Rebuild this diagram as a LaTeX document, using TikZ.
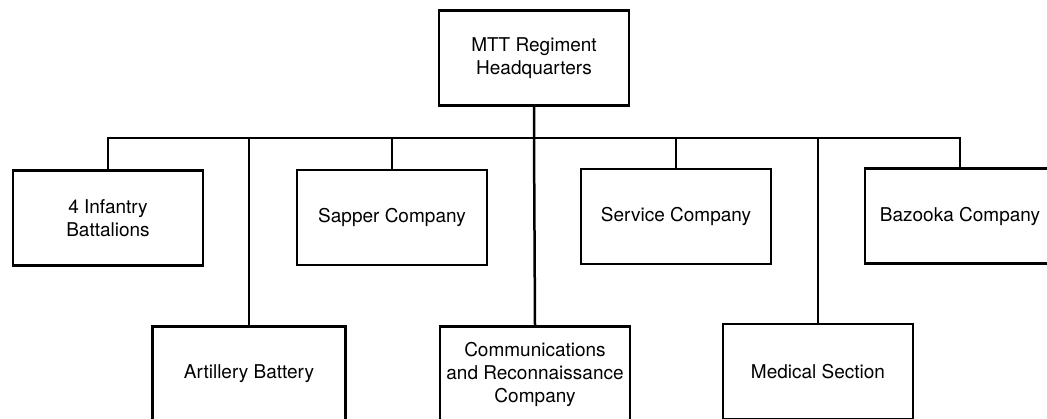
\documentclass[tikz,border=0pt]{standalone}
\usepackage{fontspec}
\setmainfont{TeX Gyre Heros}
\begin{document}
\begin{tikzpicture}[x=1pt,y=-1pt,
  unitbox/.style={draw=black, line width=2.8pt, fill=white, minimum width=190pt,
    minimum height=95pt, inner sep=0pt, align=center,
    font=\fontsize{19}{23}\selectfont},
  conn/.style={draw=black, line width=2.5pt}]
\useasboundingbox (0,0) rectangle (1047,419);
\clip (0,0) rectangle (1047,419);
\fill[white] (0,0) rectangle (1047,419);
\coordinate (bus) at (0,138);
% nodes
\node[unitbox] (hq)   at (534,58)    {MTT Regiment\\Headquarters};
\node[unitbox] (inf)  at (108,218)   {4 Infantry\\Battalions};
\node[unitbox] (sap)  at (392,217.5) {Sapper Company};
\node[unitbox] (ser)  at (676,216.5) {Service Company};
\node[unitbox] (baz)  at (960,216)   {Bazooka Company};
\node[unitbox, minimum width=193pt] (art) at (249,374) {Artillery Battery};
\node[unitbox] (com)  at (535,374)   {Communications\\and Reconnaissance\\Company};
\node[unitbox] (med)  at (818,371.5) {Medical Section};
% connectors
\draw[conn] (inf.north) -- (inf.north |- bus) -- (baz.north |- bus) -- (baz.north);
\draw[conn] (hq.south) -- (hq.south |- bus) -- (com.north);
\draw[conn] (sap.north) -- (sap.north |- bus);
\draw[conn] (ser.north) -- (ser.north |- bus);
\draw[conn] (art.north) -- (art.north |- bus);
\draw[conn] (med.north) -- (med.north |- bus);
\end{tikzpicture}
\end{document}
